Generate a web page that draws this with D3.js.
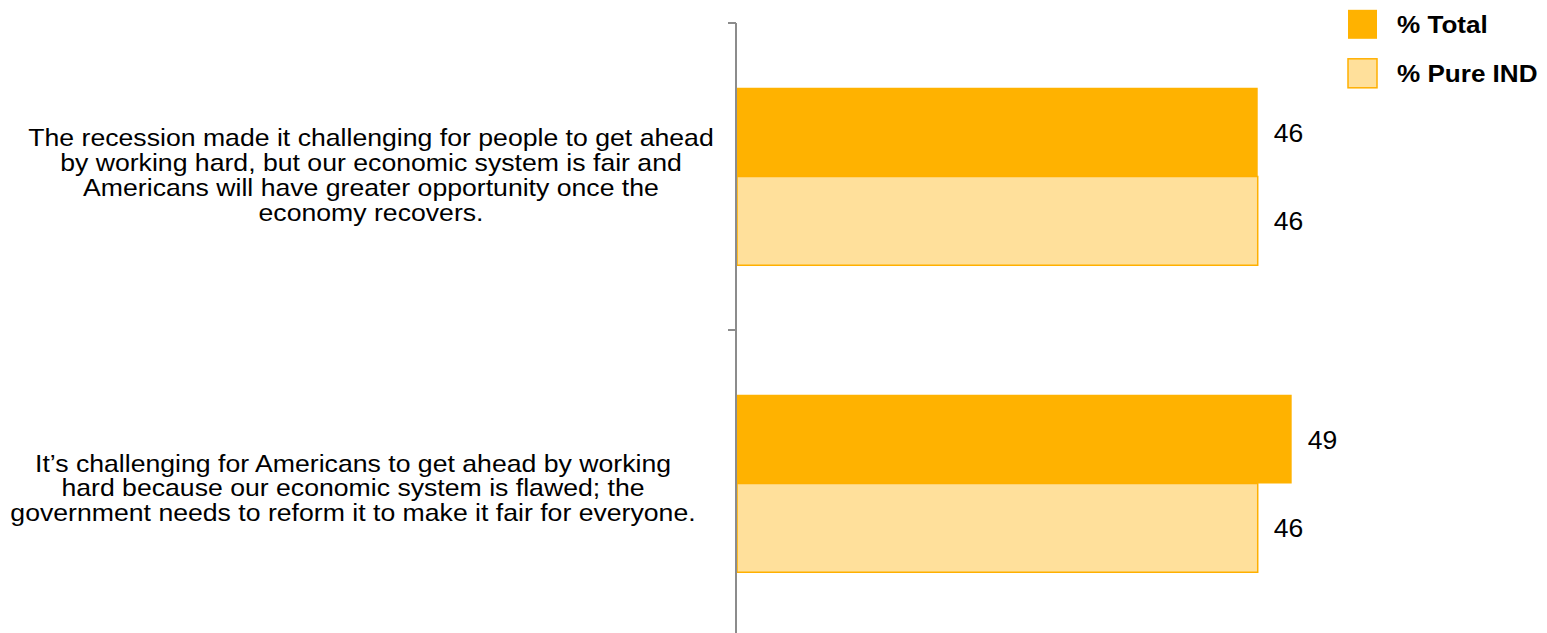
<!DOCTYPE html>
<html>
<head>
<meta charset="utf-8">
<script src="https://cdn.jsdelivr.net/npm/d3@7"></script>
<style>
  html, body { margin: 0; padding: 0; background: #ffffff; }
  svg { display: block; font-family: "Liberation Sans", Arial, sans-serif; }
</style>
</head>
<body>
<svg id="chart" width="1547" height="633"></svg>
<script>
// Statements shown on the category axis (one array entry per line of text)
const categories = [
  "recession",
  "flawed"
];
const categoryLines = [
  ["The recession made it challenging for people to get ahead",
   "by working hard, but our economic system is fair and",
   "Americans will have greater opportunity once the",
   "economy recovers."],
  ["It\u2019s challenging for Americans to get ahead by working",
   "hard because our economic system is flawed; the",
   "government needs to reform it to make it fair for everyone."]
];
const seriesNames = ["% Total", "% Pure IND"];
const totalValues = [46, 49];
const pureIndValues = [46, 46];

// Layout and styling
const colors = { total: "#FFB200", pure: "#FFE09B", pureStroke: "#FFB000" };
const axisX = 736;
const plotTop = 23, plotBottom = 637;
const labelLayout = { centers: [371, 353], dy: [-1, 5], lineHeight: 24.8 };
const textStretch = 1.11; // horizontal widening applied to axis and legend text

const svg = d3.select("#chart");

const rows = categories.map((c, i) => ({
  key: c,
  lines: categoryLines[i],
  values: [
    { series: seriesNames[0], value: totalValues[i] },
    { series: seriesNames[1], value: pureIndValues[i] }
  ]
}));

const pad = 129.5 / 307;
const y = d3.scaleBand()
  .domain(categories)
  .range([plotTop, plotBottom])
  .paddingInner(pad)
  .paddingOuter(pad / 2);

const ySub = d3.scaleBand()
  .domain(seriesNames)
  .range([0, y.bandwidth()])
  .padding(0);

const x = d3.scaleLinear()
  .domain([0, 60])
  .range([axisX + 1, axisX + 1 + 60 * 11.32]);

// Bars
const groups = svg.append("g").selectAll("g")
  .data(rows)
  .join("g")
  .attr("transform", d => `translate(0,${y(d.key)})`);

groups.selectAll("rect")
  .data(d => d.values)
  .join("rect")
  .attr("x", x(0))
  .attr("y", d => ySub(d.series))
  .attr("width", d => x(d.value) - x(0))
  .attr("height", ySub.bandwidth())
  .attr("fill", d => d.series === seriesNames[0] ? colors.total : colors.pure)
  .attr("stroke", d => d.series === seriesNames[0] ? "none" : colors.pureStroke)
  .attr("stroke-width", 1.5);

// Value labels
groups.selectAll("text.value")
  .data(d => d.values)
  .join("text")
  .attr("class", "value")
  .attr("x", d => x(d.value) + 16)
  .attr("y", d => ySub(d.series) + ySub.bandwidth() / 2)
  .attr("dy", "0.36em")
  .attr("font-size", 26.5)
  .attr("fill", "#000")
  .text(d => d.value);

// Category axis: vertical line with ticks at band boundaries
const step = y.step();
const boundaries = d3.range(categories.length + 1).map(i => plotTop + i * step);
const axis = svg.append("g").attr("stroke", "#8c8c8c").attr("stroke-width", 2);
axis.append("line")
  .attr("x1", axisX).attr("x2", axisX)
  .attr("y1", plotTop).attr("y2", plotBottom);
axis.selectAll("line.tick")
  .data(boundaries)
  .join("line")
  .attr("class", "tick")
  .attr("x1", axisX - 8).attr("x2", axisX)
  .attr("y1", d => d).attr("y2", d => d);

// Category labels, centred on each band
const catLabels = svg.append("g")
  .attr("transform", `scale(${textStretch},1)`);
rows.forEach((r, i) => {
  const cy = y(r.key) + y.bandwidth() / 2;
  const first = cy - (r.lines.length - 1) / 2 * labelLayout.lineHeight + labelLayout.dy[i];
  const t = catLabels.append("text")
    .attr("text-anchor", "middle")
    .attr("font-size", 24)
    .attr("fill", "#000");
  r.lines.forEach((line, j) => {
    t.append("tspan")
      .attr("x", labelLayout.centers[i] / textStretch)
      .attr("y", first + j * labelLayout.lineHeight + 8)
      .text(line);
  });
});

// Legend
const legend = svg.append("g");
const legendItems = [
  { name: seriesNames[0], fill: colors.total, stroke: "none", top: 9.3 },
  { name: seriesNames[1], fill: colors.pure, stroke: colors.pureStroke, top: 58.3 }
];
legend.selectAll("rect")
  .data(legendItems)
  .join("rect")
  .attr("x", 1348)
  .attr("y", d => d.top + 0.5)
  .attr("width", 29)
  .attr("height", 29)
  .attr("fill", d => d.fill)
  .attr("stroke", d => d.stroke)
  .attr("stroke-width", 1.5);
legend.append("g")
  .attr("transform", `scale(${textStretch},1)`)
  .selectAll("text")
  .data(legendItems)
  .join("text")
  .attr("x", 1397 / textStretch)
  .attr("y", d => d.top + 15 + 8.4)
  .attr("font-size", 23.5)
  .attr("font-weight", "bold")
  .attr("fill", "#000")
  .text(d => d.name);
</script>
</body>
</html>
